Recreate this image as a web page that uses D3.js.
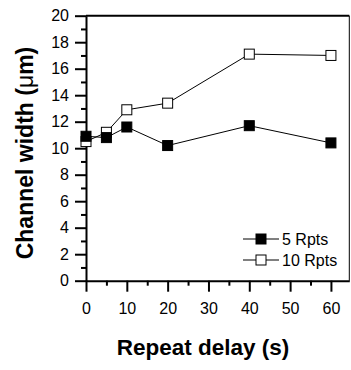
<!DOCTYPE html>
<html>
<head>
<meta charset="utf-8">
<script src="https://cdn.jsdelivr.net/npm/d3@7"></script>
<style>
  body { margin: 0; background: #fff; }
  svg { display: block; font-family: "Liberation Sans", Arial, sans-serif; }
  .axis text { font-size: 16px; fill: #000; }
  .axis path, .axis line { stroke: #000; stroke-width: 2px; }
  .title { font-size: 22.5px; font-weight: bold; fill: #000; }
</style>
</head>
<body>
<div id="chart"></div>
<script>
// Channel width vs repeat delay

// Data
const delays = [0, 5, 10, 20, 40, 60];
const rpts5 = [10.9, 10.8, 11.6, 10.2, 11.7, 10.4];
const rpts10 = [10.5, 11.2, 12.9, 13.4, 17.1, 17.0];
const seriesNames = ['5 Rpts', '10 Rpts'];
const xTicks = [0, 10, 20, 30, 40, 50, 60];
const xMinor = [5, 15, 25, 35, 45, 55];
const yTicks = [0, 2, 4, 6, 8, 10, 12, 14, 16, 18, 20];
const yMinor = [1, 3, 5, 7, 9, 11, 13, 15, 17, 19];

// Layout
const width = 351, height = 370;
const margin = { top: 15.7, right: 1.7, bottom: 89.3, left: 86 };
const markerSize = 10;

const svg = d3.select('#chart')
    .append('svg')
    .attr('width', width)
    .attr('height', height);

const x = d3.scaleLinear()
    .domain([0, 64.5])
    .range([margin.left, width - margin.right]);

const y = d3.scaleLinear()
    .domain([0, 20])
    .range([height - margin.bottom, margin.top]);

// Frame (top and right)
svg.append('line')
    .attr('x1', x(0)).attr('x2', x(64.5))
    .attr('y1', y(20)).attr('y2', y(20))
    .attr('stroke', '#000').attr('stroke-width', 2);
svg.append('line')
    .attr('x1', x(64.5)).attr('x2', x(64.5))
    .attr('y1', y(20)).attr('y2', y(0))
    .attr('stroke', '#000').attr('stroke-width', 1);

// Minor ticks
svg.append('g')
    .attr('class', 'axis')
    .attr('transform', `translate(0,${y(0)})`)
    .call(d3.axisBottom(x).tickValues(xMinor).tickSize(5).tickSizeOuter(0).tickFormat(''))
    .call(g => g.select('.domain').remove());
svg.append('g')
    .attr('class', 'axis')
    .attr('transform', `translate(${x(0)},0)`)
    .call(d3.axisLeft(y).tickValues(yMinor).tickSize(5).tickSizeOuter(0).tickFormat(''))
    .call(g => g.select('.domain').remove());

// Major axes
svg.append('g')
    .attr('class', 'axis')
    .attr('transform', `translate(0,${y(0)})`)
    .call(d3.axisBottom(x).tickValues(xTicks).tickSize(11).tickPadding(11).tickSizeOuter(0));
svg.append('g')
    .attr('class', 'axis')
    .attr('transform', `translate(${x(0)},0)`)
    .call(d3.axisLeft(y).tickValues(yTicks).tickSize(11).tickPadding(6).tickSizeOuter(0));

// Axis titles
svg.append('text')
    .attr('class', 'title')
    .attr('x', 203)
    .attr('y', 355)
    .attr('text-anchor', 'middle')
    .text('Repeat delay (s)');

const yTitle = svg.append('text')
    .attr('class', 'title')
    .attr('font-size', 23)
    .style('font-size', '23px')
    .attr('transform', `translate(33,153) rotate(-90)`)
    .attr('text-anchor', 'middle');
yTitle.append('tspan').text('Channel width (');
yTitle.append('tspan').attr('font-weight', 'normal').text('\u03bc');
yTitle.append('tspan').text('m)');

// Series
const series = [
    { name: seriesNames[0], values: rpts5, fill: '#000' },
    { name: seriesNames[1], values: rpts10, fill: '#fff' }
];

const line = d3.line()
    .x((d, i) => x(delays[i]))
    .y(d => y(d));

series.forEach(s => {
    svg.append('path')
        .datum(s.values)
        .attr('fill', 'none')
        .attr('stroke', '#000')
        .attr('stroke-width', 1)
        .attr('d', line);
});

series.slice().reverse().forEach(s => {
    svg.append('g')
        .selectAll('rect')
        .data(s.values)
        .enter().append('rect')
        .attr('x', (d, i) => x(delays[i]) - markerSize / 2)
        .attr('y', d => y(d) - markerSize / 2)
        .attr('width', markerSize)
        .attr('height', markerSize)
        .attr('fill', s.fill)
        .attr('stroke', '#000')
        .attr('stroke-width', 1);
});

// Legend
const legend = svg.append('g')
    .attr('transform', 'translate(243,239)');

series.forEach((s, i) => {
    const row = legend.append('g')
        .attr('transform', `translate(0,${i * 21})`);
    row.append('line')
        .attr('x1', 0).attr('x2', 36)
        .attr('stroke', '#000').attr('stroke-width', 1);
    row.append('rect')
        .attr('x', 18 - markerSize / 2)
        .attr('y', -markerSize / 2)
        .attr('width', markerSize)
        .attr('height', markerSize)
        .attr('fill', s.fill)
        .attr('stroke', '#000');
    row.append('text')
        .attr('x', 39)
        .attr('dy', '0.35em')
        .attr('font-size', 16)
        .text(s.name);
});
</script>
</body>
</html>
